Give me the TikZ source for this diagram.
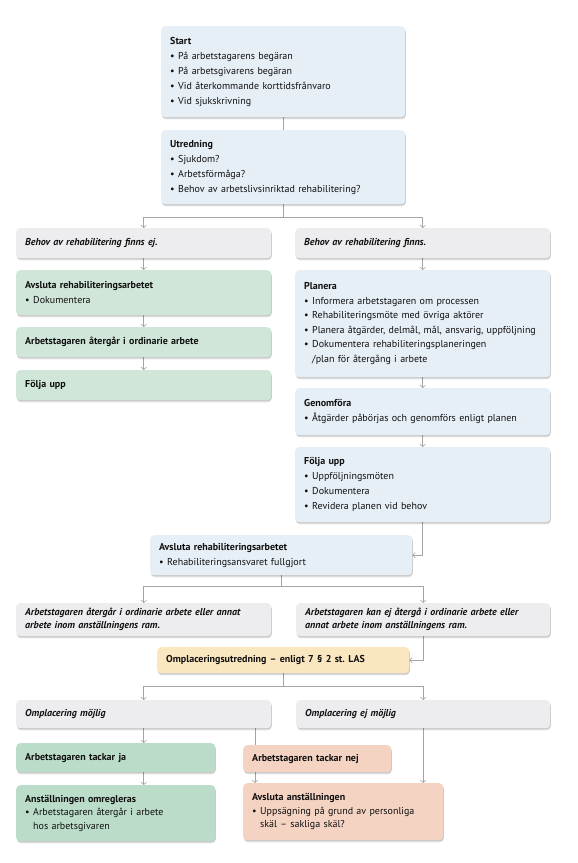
\documentclass[tikz,border=0pt]{standalone}
\usepackage{fontspec}
\setmainfont{PT Sans}
\usetikzlibrary{arrows.meta,shadows,backgrounds,calc}
\frenchspacing
\definecolor{cblue}{HTML}{E7EFF6}
\definecolor{cgrey}{HTML}{EDEDEF}
\definecolor{cgreen}{HTML}{CFE6D8}
\definecolor{cgreenb}{HTML}{BADCC8}
\definecolor{cpeach}{HTML}{F4D3C2}
\definecolor{cyellow}{HTML}{FAE6BF}
\definecolor{lgray}{HTML}{A4A4A4}
\definecolor{txt}{HTML}{101010}
\newcommand{\bl}{\textbullet\hspace{0.35em}}
\newcommand{\blind}{\phantom{\textbullet}\hspace{0.35em}}
\tikzset{
  box/.style={rounded corners=4pt, draw=none, anchor=north west, align=left,
    inner xsep=9pt, inner ysep=0pt, text=txt,
    font=\fontsize{10}{15}\selectfont,
    drop shadow={shadow xshift=0.6pt, shadow yshift=-2.2pt, opacity=0.10, fill=black},
    drop shadow={shadow xshift=0.6pt, shadow yshift=-1.2pt, opacity=0.12, fill=black}},
  cond/.style={box, fill=cgrey, font=\fontsize{10}{13}\selectfont\bfseries\itshape},
  conn/.style={draw=lgray, line width=0.6pt},
  arr/.style={conn, -{Straight Barb[length=2.5pt,width=5.5pt]}},
}
\begin{document}
\begin{tikzpicture}[x=1pt,y=-1pt]
\useasboundingbox (0,0) rectangle (578,863);
% top
\node[box, fill=cblue, text width=226pt, minimum height=91pt] (start) at (161,26)
  {\textbf{Start}\\ \bl På arbetstagarens begäran\\ \bl På arbetsgivarens begäran\\ \bl Vid återkommande korttidsfrånvaro\\ \bl Vid sjukskrivning};
\node[box, fill=cblue, text width=226pt, minimum height=74pt] (utred) at (161,130)
  {\textbf{Utredning}\\ \bl Sjukdom?\\ \bl Arbetsförmåga?\\ \bl Behov av arbetslivsinriktad rehabilitering?};
% left column
\node[cond, text width=237pt, minimum height=30pt] (ej) at (16,228) {Behov av rehabilitering finns ej.};
\node[box, fill=cgreen, text width=237pt, minimum height=45pt] (avsl1) at (16,270)
  {\textbf{Avsluta rehabiliteringsarbetet}\\ \bl Dokumentera};
\node[box, fill=cgreen, text width=237pt, minimum height=30pt] (ater) at (16,327)
  {\textbf{Arbetstagaren återgår i ordinarie arbete}};
\node[box, fill=cgreen, text width=237pt, minimum height=30pt] (folj1) at (16,370)
  {\textbf{Följa upp}};
% right column
\node[cond, text width=237pt, minimum height=30pt] (finns) at (295,228) {Behov av rehabilitering finns.};
\node[box, fill=cblue, text width=237pt, minimum height=107pt, font=\fontsize{10}{14.5}\selectfont] (planera) at (295,270)
  {\textbf{Planera}\\ \bl Informera arbetstagaren om processen\\ \bl Rehabiliteringsmöte med övriga aktörer\\ \bl Planera åtgärder, delmål, mål, ansvarig, uppföljning\\ \bl Dokumentera rehabiliteringsplaneringen\\ \blind/plan för återgång i arbete};
\node[box, fill=cblue, text width=237pt, minimum height=47pt] (genom) at (295,388)
  {\textbf{Genomföra}\\ \bl Åtgärder påbörjas och genomförs enligt planen};
\node[box, fill=cblue, text width=237pt, minimum height=75pt] (folj2) at (295,447)
  {\textbf{Följa upp}\\ \bl Uppföljningsmöten\\ \bl Dokumentera\\ \bl Revidera planen vid behov};
% middle
\node[box, fill=cblue, text width=244pt, minimum height=40pt] (avsl2) at (150,535)
  {\textbf{Avsluta rehabiliteringsarbetet}\\ \bl Rehabiliteringsansvaret fullgjort};
\node[cond, text width=237pt, minimum height=33pt] (aterL) at (16,603)
  {Arbetstagaren återgår i ordinarie arbete eller annat\\ arbete inom anställningens ram.};
\node[cond, text width=236pt, minimum height=33pt] (kanej) at (296,603)
  {Arbetstagaren kan ej återgå i ordinarie arbete eller\\ annat arbete inom anställningens ram.};
\node[box, fill=cyellow, text width=234pt, minimum height=26pt] (ompl) at (157,647)
  {\textbf{Omplaceringsutredning – enligt 7 § 2 st. LAS}};
\node[cond, text width=237pt, minimum height=28pt] (mojl) at (16,700) {Omplacering möjlig};
\node[cond, text width=236pt, minimum height=28pt] (ejmojl) at (296,700) {Omplacering ej möjlig};
\node[box, fill=cgreenb, text width=181pt, minimum height=29pt] (ja) at (16,743)
  {\textbf{Arbetstagaren tackar ja}};
\node[box, fill=cpeach, text width=130pt, minimum height=27pt] (nej) at (243,745)
  {\textbf{Arbetstagaren tackar nej}};
\node[box, fill=cgreenb, text width=181pt, minimum height=56pt, font=\fontsize{10}{13.5}\selectfont] (omreg) at (16,785)
  {\textbf{Anställningen omregleras}\\ \bl Arbetstagaren återgår i arbete\\ \blind hos arbetsgivaren};
\node[box, fill=cpeach, text width=182pt, minimum height=57pt, font=\fontsize{10}{13.5}\selectfont] (avslanst) at (243,783)
  {\textbf{Avsluta anställningen}\\ \bl Uppsägning på grund av personliga\\ \blind skäl – sakliga skäl?};
% connectors
\begin{scope}[on background layer]
\draw[conn] (start.south) -- (utred.north);
\draw[arr] (utred.south) -- ++(0,13) -| (ej.north);
\draw[arr] (utred.south) -- ++(0,13) -| (finns.north);
\draw[arr] (ej.south) -- (avsl1.north);
\draw[arr] (avsl1.south) -- (ater.north);
\draw[arr] (ater.south) -- (folj1.north);
\draw[arr] (finns.south) -- (planera.north);
\draw[arr] (planera.south) -- (genom.north);
\draw[arr] (genom.south) -- (folj2.north);
\draw[arr] (folj2.south) |- (avsl2.east);
\draw[arr] (avsl2.south) -- ++(0,11) -| (aterL.north);
\draw[arr] (avsl2.south) -- ++(0,11) -| (kanej.north);
\draw[arr] (kanej.south) |- (ompl.east);
\draw[arr] (ompl.south) -- ++(0,13) -| (mojl.north);
\draw[arr] (ompl.south) -- ++(0,13) -| (ejmojl.north);
\draw[arr] (mojl.south) -- (mojl.south |- ja.north);
\draw[arr] (mojl.south |- ja.south) -- (mojl.south |- omreg.north);
\draw[arr] ([xshift=12pt]nej.west |- mojl.south) -- ([xshift=12pt]nej.west |- avslanst.north);
\draw[arr] (ejmojl.south) -- (ejmojl.south |- avslanst.north);
\end{scope}
\end{tikzpicture}
\end{document}
